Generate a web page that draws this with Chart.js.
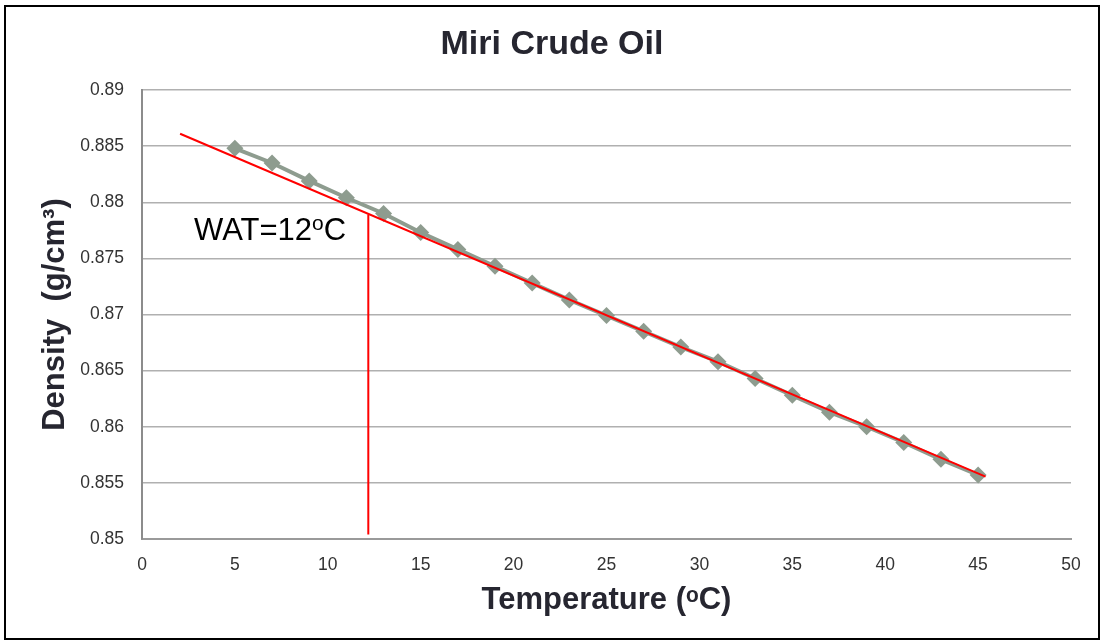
<!DOCTYPE html>
<html>
<head>
<meta charset="utf-8">
<script src="https://cdn.jsdelivr.net/npm/chart.js@4/dist/chart.umd.min.js"></script>
<style>
  html, body { margin: 0; padding: 0; background: #ffffff; }
  #wrap { width: 1104px; height: 642px; }
</style>
</head>
<body>
<div id="wrap"><canvas id="c" width="1104" height="642"></canvas></div>
<script>
// ---- data ----
const temperatures = [5, 7, 9, 11, 13, 15, 17, 19, 21, 23, 25, 27, 29, 31, 33, 35, 37, 39, 41, 43, 45];
const densities = [0.8848, 0.8835, 0.8819, 0.8804, 0.8790, 0.8773, 0.8758, 0.8743, 0.8728, 0.8713, 0.8699,
                   0.8685, 0.8671, 0.8658, 0.8643, 0.8628, 0.8613, 0.8600, 0.8586, 0.8571, 0.8557];
const trendX = [2.05, 45.4];
const trendY = [0.8861, 0.85555];
const watX = [12.18, 12.18];
const watY = [0.8504, 0.8789];
const xTicks = [0, 5, 10, 15, 20, 25, 30, 35, 40, 45, 50];
const yTicks = [0.85, 0.855, 0.86, 0.865, 0.87, 0.875, 0.88, 0.885, 0.89];
const annotation = { main: 'WAT=12', sup: 'o', tail: 'C', x: 2.8, y: 0.87664 };

const FONT = "'Liberation Sans', Arial, 'DejaVu Sans', sans-serif";
const TXT = '#262630';

const framePlugin = {
  id: 'frame',
  beforeDraw(chart) {
    const ctx = chart.ctx;
    ctx.save();
    ctx.fillStyle = '#ffffff';
    ctx.fillRect(0, 0, chart.width, chart.height);
    ctx.restore();
  },
  afterDraw(chart) {
    const ctx = chart.ctx;
    ctx.save();
    ctx.strokeStyle = '#000000';
    ctx.lineWidth = 2;
    ctx.strokeRect(5, 6, 1094, 633);
    // annotation text with real superscript
    const xs = chart.scales.x, ys = chart.scales.y;
    let px = xs.getPixelForValue(annotation.x);
    const py = ys.getPixelForValue(annotation.y);
    ctx.fillStyle = '#000000';
    ctx.textBaseline = 'alphabetic';
    ctx.textAlign = 'left';
    ctx.font = '31px ' + FONT;
    ctx.fillText(annotation.main, px, py);
    px += ctx.measureText(annotation.main).width;
    ctx.font = '21px ' + FONT;
    ctx.fillText(annotation.sup, px, py - 10);
    px += ctx.measureText(annotation.sup).width;
    ctx.font = '31px ' + FONT;
    ctx.fillText(annotation.tail, px, py);
    ctx.restore();
  }
};

new Chart(document.getElementById('c'), {
  type: 'scatter',
  data: {
    datasets: [
      {
        label: 'Trend',
        data: trendX.map((x, i) => ({ x, y: trendY[i] })),
        showLine: true,
        borderColor: '#ff0000',
        borderWidth: 2,
        pointRadius: 0,
        order: 0
      },
      {
        label: 'WAT',
        data: watX.map((x, i) => ({ x, y: watY[i] })),
        showLine: true,
        borderColor: '#ff0000',
        borderWidth: 2,
        pointRadius: 0,
        order: 0
      },
      {
        label: 'Density',
        data: temperatures.map((x, i) => ({ x, y: densities[i] })),
        showLine: true,
        borderColor: '#8e9c8f',
        backgroundColor: '#8e9c8f',
        borderWidth: 4,
        pointStyle: 'rectRot',
        pointRadius: 8.5,
        pointBorderWidth: 0,
        pointBackgroundColor: '#8e9c8f',
        order: 1
      }
    ]
  },
  options: {
    responsive: false,
    animation: false,
    devicePixelRatio: 1,
    layout: { padding: { left: 33, right: 33, top: 0, bottom: 0 } },
    plugins: {
      legend: { display: false },
      tooltip: { enabled: false },
      title: {
        display: true,
        text: 'Miri Crude Oil',
        color: TXT,
        font: { family: FONT, size: 34, weight: 'bold' },
        padding: { top: 24.6, bottom: 24.6 }
      }
    },
    scales: {
      x: {
        type: 'linear',
        min: 0, max: 50,
        afterFit(scale) { scale.height = 103; },
        afterBuildTicks(scale) { scale.ticks = xTicks.map(v => ({ value: v })); },
        grid: { display: false, drawTicks: false },
        border: { display: true, color: '#9a9a9a', width: 2 },
        ticks: {
          padding: 16,
          color: '#333333',
          font: { family: FONT, size: 17.5 },
          callback: v => String(v)
        },
        title: {
          display: true,
          text: 'Temperature (ᵒC)',
          color: TXT,
          font: { family: FONT, size: 31, weight: 'bold' },
          padding: { top: 0, bottom: 23.4 }
        }
      },
      y: {
        type: 'linear',
        min: 0.85, max: 0.89,
        afterFit(scale) { scale.width = 109; },
        afterBuildTicks(scale) { scale.ticks = yTicks.map(v => ({ value: v })); },
        grid: { color: '#b0b0b0', lineWidth: 1.5, drawTicks: false },
        border: { display: true, color: '#8c8c8c', width: 2 },
        ticks: {
          padding: 18,
          color: '#333333',
          font: { family: FONT, size: 17.5 },
          callback: v => String(parseFloat(Number(v).toFixed(3)))
        },
        title: {
          display: true,
          text: 'Density  (g/cm³)',
          color: TXT,
          font: { family: FONT, size: 31, weight: 'bold' },
          padding: { top: 3.4, bottom: 0 }
        }
      }
    }
  },
  plugins: [framePlugin]
});
</script>
</body>
</html>
